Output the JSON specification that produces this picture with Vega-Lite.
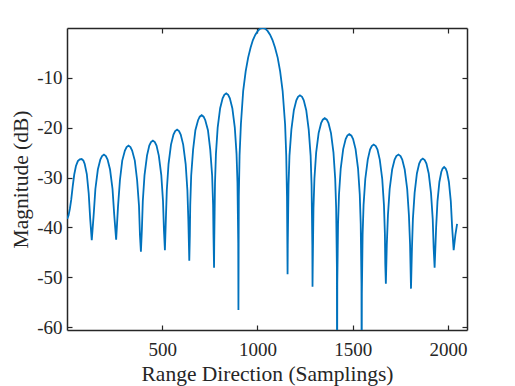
{
  "$schema": "https://vega.github.io/schema/vega-lite/v6.json",
  "width": 400,
  "height": 302,
  "autosize": {"type": "none"},
  "padding": {"left": 67, "top": 28, "right": 48, "bottom": 56},
  "background": "white",
  "config": {
    "view": {"stroke": null},
    "font": "Liberation Serif",
    "axis": {
      "grid": false,
      "domainColor": "#262626",
      "domainWidth": 1.5,
      "tickColor": "#262626",
      "tickWidth": 1.2,
      "tickSize": -5,
      "labelColor": "#262626",
      "labelFont": "Liberation Serif",
      "labelFontSize": 19,
      "titleFont": "Liberation Serif",
      "titleFontSize": 21.5,
      "titleFontWeight": "normal",
      "titleColor": "#262626",
      "zindex": 1
    }
  },
  "data": {
    "values": [
      {"sample": 1, "mag": -38.3}, {"sample": 8, "mag": -37.6}, {"sample": 15, "mag": -36.3}, {"sample": 22, "mag": -34.5}, {"sample": 30, "mag": -31.8}, {"sample": 38, "mag": -29.4}, {"sample": 47, "mag": -27.7}, {"sample": 57, "mag": -26.7}, {"sample": 67, "mag": -26.35}, {"sample": 77, "mag": -26.3}, {"sample": 86, "mag": -26.6}, {"sample": 93, "mag": -27.3}, {"sample": 104, "mag": -29.3}, {"sample": 114, "mag": -33.2}, {"sample": 122, "mag": -38.4}, {"sample": 130, "mag": -42.6},
      {"sample": 140, "mag": -37.5}, {"sample": 149, "mag": -32.3}, {"sample": 162, "mag": -28.4}, {"sample": 175, "mag": -26.4}, {"sample": 184, "mag": -25.7}, {"sample": 194, "mag": -25.4}, {"sample": 204, "mag": -25.7}, {"sample": 213, "mag": -26.4}, {"sample": 226, "mag": -28.4}, {"sample": 239, "mag": -32.3}, {"sample": 248, "mag": -37.5}, {"sample": 258, "mag": -42.5},
      {"sample": 268, "mag": -35.7}, {"sample": 278, "mag": -30.5}, {"sample": 290, "mag": -26.6}, {"sample": 304, "mag": -24.6}, {"sample": 313, "mag": -23.9}, {"sample": 323, "mag": -23.6}, {"sample": 333, "mag": -23.9}, {"sample": 342, "mag": -24.6}, {"sample": 356, "mag": -26.6}, {"sample": 368, "mag": -30.5}, {"sample": 378, "mag": -35.7}, {"sample": 383, "mag": -41.6}, {"sample": 388, "mag": -44.9},
      {"sample": 393, "mag": -40.6}, {"sample": 398, "mag": -34.7}, {"sample": 407, "mag": -29.5}, {"sample": 420, "mag": -25.6}, {"sample": 432, "mag": -23.6}, {"sample": 441, "mag": -22.9}, {"sample": 451, "mag": -22.6}, {"sample": 461, "mag": -22.9}, {"sample": 470, "mag": -23.6}, {"sample": 482, "mag": -25.6}, {"sample": 495, "mag": -29.5}, {"sample": 504, "mag": -34.7}, {"sample": 509, "mag": -40.6}, {"sample": 514, "mag": -44.6},
      {"sample": 519, "mag": -38.4}, {"sample": 524, "mag": -32.5}, {"sample": 533, "mag": -27.3}, {"sample": 546, "mag": -23.4}, {"sample": 559, "mag": -21.4}, {"sample": 568, "mag": -20.7}, {"sample": 578, "mag": -20.4}, {"sample": 588, "mag": -20.7}, {"sample": 597, "mag": -21.4}, {"sample": 610, "mag": -23.4}, {"sample": 623, "mag": -27.3}, {"sample": 632, "mag": -32.5}, {"sample": 637, "mag": -38.4}, {"sample": 642, "mag": -46.7},
      {"sample": 645, "mag": -41.5}, {"sample": 647, "mag": -35.5}, {"sample": 652, "mag": -29.6}, {"sample": 662, "mag": -24.4}, {"sample": 674, "mag": -20.5}, {"sample": 688, "mag": -18.5}, {"sample": 697, "mag": -17.8}, {"sample": 707, "mag": -17.5}, {"sample": 717, "mag": -17.8}, {"sample": 726, "mag": -18.5}, {"sample": 740, "mag": -20.5}, {"sample": 752, "mag": -24.4}, {"sample": 762, "mag": -29.6}, {"sample": 767, "mag": -35.5}, {"sample": 769, "mag": -41.5}, {"sample": 772, "mag": -48.1},
      {"sample": 773, "mag": -43.2}, {"sample": 775, "mag": -37.1}, {"sample": 777, "mag": -31.1}, {"sample": 782, "mag": -25.2}, {"sample": 791, "mag": -20.0}, {"sample": 804, "mag": -16.1}, {"sample": 817, "mag": -14.1}, {"sample": 826, "mag": -13.4}, {"sample": 836, "mag": -13.1}, {"sample": 846, "mag": -13.4}, {"sample": 855, "mag": -14.1}, {"sample": 868, "mag": -16.1}, {"sample": 881, "mag": -20.0}, {"sample": 890, "mag": -25.2}, {"sample": 895, "mag": -31.1}, {"sample": 897, "mag": -37.1}, {"sample": 899, "mag": -43.2}, {"sample": 900, "mag": -56.6},
      {"sample": 902, "mag": -33.8}, {"sample": 906, "mag": -25.6}, {"sample": 913, "mag": -19.3}, {"sample": 925, "mag": -12.6}, {"sample": 938, "mag": -8.7}, {"sample": 951, "mag": -5.94}, {"sample": 964, "mag": -3.92}, {"sample": 976, "mag": -2.42}, {"sample": 989, "mag": -1.33}, {"sample": 1002, "mag": -0.58}, {"sample": 1014, "mag": -0.14}, {"sample": 1027, "mag": 0}, {"sample": 1040, "mag": -0.14}, {"sample": 1053, "mag": -0.58}, {"sample": 1066, "mag": -1.33}, {"sample": 1079, "mag": -2.42}, {"sample": 1092, "mag": -3.92}, {"sample": 1106, "mag": -5.94}, {"sample": 1119, "mag": -8.7}, {"sample": 1132, "mag": -12.6}, {"sample": 1145, "mag": -19.3}, {"sample": 1151, "mag": -25.6}, {"sample": 1155, "mag": -33.8}, {"sample": 1158, "mag": -49.4},
      {"sample": 1159, "mag": -43.6}, {"sample": 1161, "mag": -37.5}, {"sample": 1163, "mag": -31.5}, {"sample": 1168, "mag": -25.6}, {"sample": 1178, "mag": -20.4}, {"sample": 1191, "mag": -16.5}, {"sample": 1204, "mag": -14.5}, {"sample": 1213, "mag": -13.8}, {"sample": 1223, "mag": -13.5}, {"sample": 1234, "mag": -13.8}, {"sample": 1243, "mag": -14.5}, {"sample": 1256, "mag": -16.5}, {"sample": 1269, "mag": -20.4}, {"sample": 1279, "mag": -25.6}, {"sample": 1284, "mag": -31.5}, {"sample": 1286, "mag": -37.5}, {"sample": 1288, "mag": -43.6}, {"sample": 1289, "mag": -51.9},
      {"sample": 1290, "mag": -48.1}, {"sample": 1292, "mag": -42.1}, {"sample": 1294, "mag": -36.1}, {"sample": 1299, "mag": -30.2}, {"sample": 1308, "mag": -25.0}, {"sample": 1321, "mag": -21.1}, {"sample": 1334, "mag": -19.1}, {"sample": 1343, "mag": -18.4}, {"sample": 1353, "mag": -18.1}, {"sample": 1364, "mag": -18.4}, {"sample": 1373, "mag": -19.1}, {"sample": 1386, "mag": -21.1}, {"sample": 1399, "mag": -25.0}, {"sample": 1408, "mag": -30.2}, {"sample": 1413, "mag": -36.1}, {"sample": 1415, "mag": -42.1}, {"sample": 1417, "mag": -48.1}, {"sample": 1418, "mag": -75},
      {"sample": 1419, "mag": -51.3}, {"sample": 1421, "mag": -45.3}, {"sample": 1423, "mag": -39.3}, {"sample": 1428, "mag": -33.4}, {"sample": 1437, "mag": -28.2}, {"sample": 1450, "mag": -24.3}, {"sample": 1463, "mag": -22.3}, {"sample": 1472, "mag": -21.6}, {"sample": 1482, "mag": -21.3}, {"sample": 1493, "mag": -21.6}, {"sample": 1502, "mag": -22.3}, {"sample": 1515, "mag": -24.3}, {"sample": 1528, "mag": -28.2}, {"sample": 1537, "mag": -33.4}, {"sample": 1542, "mag": -39.3}, {"sample": 1544, "mag": -45.3}, {"sample": 1546, "mag": -51.3}, {"sample": 1547, "mag": -72},
      {"sample": 1548, "mag": -53.4}, {"sample": 1550, "mag": -47.4}, {"sample": 1552, "mag": -41.4}, {"sample": 1557, "mag": -35.5}, {"sample": 1566, "mag": -30.3}, {"sample": 1579, "mag": -26.4}, {"sample": 1591, "mag": -24.4}, {"sample": 1600, "mag": -23.7}, {"sample": 1610, "mag": -23.4}, {"sample": 1621, "mag": -23.7}, {"sample": 1630, "mag": -24.4}, {"sample": 1642, "mag": -26.4}, {"sample": 1655, "mag": -30.3}, {"sample": 1664, "mag": -35.5}, {"sample": 1669, "mag": -41.4}, {"sample": 1671, "mag": -47.4}, {"sample": 1674, "mag": -51.3},
      {"sample": 1679, "mag": -43.4}, {"sample": 1685, "mag": -37.5}, {"sample": 1694, "mag": -32.3}, {"sample": 1707, "mag": -28.4}, {"sample": 1720, "mag": -26.4}, {"sample": 1729, "mag": -25.7}, {"sample": 1740, "mag": -25.4}, {"sample": 1751, "mag": -25.7}, {"sample": 1760, "mag": -26.4}, {"sample": 1773, "mag": -28.4}, {"sample": 1786, "mag": -32.3}, {"sample": 1795, "mag": -37.5}, {"sample": 1801, "mag": -43.4}, {"sample": 1806, "mag": -52.3},
      {"sample": 1811, "mag": -44.2}, {"sample": 1816, "mag": -38.3}, {"sample": 1825, "mag": -33.1}, {"sample": 1837, "mag": -29.2}, {"sample": 1849, "mag": -27.2}, {"sample": 1858, "mag": -26.5}, {"sample": 1868, "mag": -26.2}, {"sample": 1878, "mag": -26.5}, {"sample": 1887, "mag": -27.2}, {"sample": 1899, "mag": -29.2}, {"sample": 1911, "mag": -33.1}, {"sample": 1920, "mag": -38.3}, {"sample": 1925, "mag": -44.2}, {"sample": 1930, "mag": -48.1},
      {"sample": 1938, "mag": -40.0}, {"sample": 1945, "mag": -34.8}, {"sample": 1955, "mag": -30.9}, {"sample": 1965, "mag": -28.9}, {"sample": 1972, "mag": -28.2}, {"sample": 1980, "mag": -27.9}, {"sample": 1988, "mag": -28.2}, {"sample": 1995, "mag": -28.9}, {"sample": 2005, "mag": -30.9}, {"sample": 2015, "mag": -34.8}, {"sample": 2022, "mag": -40.0}, {"sample": 2030, "mag": -44.6},
      {"sample": 2039, "mag": -41.5}, {"sample": 2048, "mag": -39.3}
    ]
  },
  "layer": [
    {
      "mark": {"type": "line", "color": "#0072BD", "strokeWidth": 1.8, "clip": true},
      "encoding": {
        "x": {
          "field": "sample", "type": "quantitative",
          "scale": {"domain": [0, 2100], "nice": false, "zero": false},
          "axis": {
            "orient": "bottom",
            "values": [500, 1000, 1500, 2000],
            "labelExpr": "toString(datum.value)",
            "labelPadding": 15,
            "labelBaseline": "top",
            "title": "Range Direction (Samplings)",
            "titleX": 200,
            "titleY": 50.6,
            "titleBaseline": "alphabetic",
            "titleAlign": "center"
          }
        },
        "y": {
          "field": "mag", "type": "quantitative",
          "scale": {"domain": [-60.6, 0], "nice": false, "zero": false},
          "axis": {
            "orient": "left",
            "values": [-60, -50, -40, -30, -20, -10],
            "labelExpr": "toString(datum.value)",
            "labelPadding": 10,
            "labelBaseline": "middle",
            "title": "Magnitude (dB)",
            "titleX": -39.5,
            "titleY": 151,
            "titleAngle": -90,
            "titleBaseline": "alphabetic",
            "titleAlign": "center"
          }
        }
      }
    },
    {
      "mark": {"type": "line", "strokeOpacity": 0, "clip": true},
      "encoding": {
        "x": {
          "field": "sample", "type": "quantitative",
          "scale": {"domain": [0, 2100], "nice": false, "zero": false},
          "axis": {"orient": "top", "values": [500, 1000, 1500, 2000], "labels": false, "title": null}
        },
        "y": {
          "field": "mag", "type": "quantitative",
          "scale": {"domain": [-60.6, 0], "nice": false, "zero": false},
          "axis": {"orient": "right", "values": [-60, -50, -40, -30, -20, -10], "labels": false, "title": null}
        }
      }
    }
  ],
  "resolve": {"axis": {"x": "independent", "y": "independent"}}
}
